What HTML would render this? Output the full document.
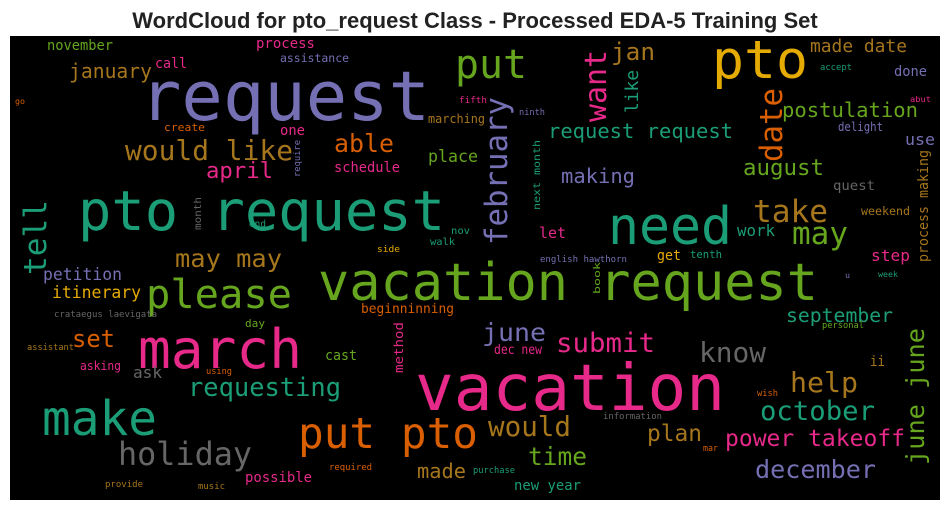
<!DOCTYPE html>
<html><head><meta charset="utf-8"><style>
html,body{margin:0;padding:0;background:#fff;width:950px;height:511px;overflow:hidden}
svg text{font-family:"DejaVu Sans Mono","Liberation Mono",monospace}
</style></head><body>
<svg width="950" height="511">
<text x="475" y="28" text-anchor="middle" style="font-family:'Liberation Sans',sans-serif;font-weight:bold;font-size:22px;fill:#222">WordCloud for pto_request Class - Processed EDA-5 Training Set</text>
<rect x="10" y="36" width="930" height="464" fill="#000"/>
<g id="words"></g>
</svg>
<script>
// [word, x, y, size, color, length, vertical]
const W=[
["request",140,120,69,"#7570b3",290],
["pto request",78,230,55,"#1b9e77",367],
["vacation request",318,300,52,"#66a61e",500],
["vacation",415,410,64,"#e7298a",310],
["pto",712,78,53,"#e6ab02",96],
["need",608,244,52,"#1b9e77",124],
["put",455,78,40,"#66a61e",72],
["march",138,368,54,"#e7298a",164],
["make",42,435,48,"#1b9e77",115],
["put pto",298,448,43,"#d95f02",180],
["please",146,308,40,"#66a61e",146],
["holiday",118,465,32,"#666666",134],
["would like",125,160,28,"#a6761d",168],
["able",334,152,25,"#d95f02",60],
["april",206,178,22,"#e7298a",67],
["january",69,78,20,"#a6761d",83],
["november",47,50,14,"#66a61e",66],
["process",256,48,14,"#e7298a",59],
["call",155,68,14,"#e7298a",32],
["assistance",280,62,11.5,"#7570b3",69],
["go",15,104,8,"#d95f02",10],
["create",164,131,11,"#d95f02",41],
["one",280,135,14,"#e7298a",25],
["schedule",334,172,14,"#e7298a",66],
["place",428,162,17,"#66a61e",50],
["fifth",459,103,9,"#e7298a",28],
["marching",428,123,12,"#a6761d",57],
["end",249,227,10,"#1b9e77",17],
["may may",175,267,25,"#a6761d",107],
["nov",451,234,10,"#1b9e77",19],
["walk",430,245,10,"#1b9e77",25],
["side",377,252,9,"#e6ab02",23],
["jan",611,60,24,"#a6761d",44],
["made date",810,52,18,"#a6761d",97],
["accept",820,70,8.5,"#1b9e77",32],
["done",894,76,14,"#7570b3",33],
["abut",910,102,8,"#e7298a",21],
["ninth",519,115,9,"#7570b3",26],
["postulation",782,117,20.5,"#66a61e",136],
["request request",548,138,20.5,"#1b9e77",185],
["delight",838,131,12,"#7570b3",45],
["use",905,145,16,"#7570b3",30],
["making",561,183,20.5,"#7570b3",74],
["august",743,175,22.4,"#66a61e",81],
["quest",833,190,13.5,"#666666",42],
["take",753,222,31,"#a6761d",75],
["weekend",861,215,11.5,"#a6761d",49],
["may",792,244,31,"#66a61e",56],
["work",737,236,16,"#1b9e77",38],
["let",539,238,15,"#e7298a",27],
["step",871,261,16,"#e7298a",39],
["get",657,260,14,"#e6ab02",24],
["tenth",690,258,11,"#1b9e77",32],
["english hawthorn",540,262,9,"#7570b3",87],
["u",845,278,8,"#7570b3",5],
["week",878,277,8,"#1b9e77",20],
["petition",43,280,16.4,"#7570b3",79],
["itinerary",52,298,16.4,"#e6ab02",89],
["crataegus laevigata",54,317,9,"#666666",103],
["beginninning",361,313,12.9,"#d95f02",93],
["day",245,327,11,"#66a61e",20],
["set",72,347,24,"#d95f02",43],
["assistant",27,350,9,"#a6761d",47],
["cast",325,360,14,"#66a61e",32],
["asking",80,370,12,"#e7298a",41],
["ask",133,378,16,"#666666",29],
["using",206,374,9,"#d95f02",26],
["requesting",188,396,25.4,"#1b9e77",153],
["june",482,341,25,"#7570b3",64],
["dec new",494,354,13,"#e7298a",48],
["submit",556,352,27,"#e7298a",99],
["september",786,322,19.7,"#1b9e77",107],
["personal",822,328,9,"#66a61e",42],
["know",699,362,28,"#666666",67],
["ii",870,366,14,"#a6761d",15],
["help",790,392,28,"#a6761d",68],
["wish",757,396,9,"#d95f02",21],
["october",760,420,27,"#1b9e77",115],
["information",603,419,9,"#666666",59],
["would",488,436,27.5,"#a6761d",83],
["plan",647,441,23,"#a6761d",55],
["power takeoff",725,446,23,"#e7298a",180],
["mar",703,451,9,"#d95f02",15],
["time",528,465,24.5,"#66a61e",59],
["made",417,478,20,"#a6761d",49],
["purchase",473,473,9,"#1b9e77",42],
["possible",245,482,14,"#e7298a",67],
["required",329,470,9,"#d95f02",43],
["december",755,478,25,"#7570b3",121],
["new year",514,490,14,"#1b9e77",67],
["provide",105,487,9,"#a6761d",38],
["music",198,489,9,"#a6761d",27],
// vertical: x=baseline x, y=bottom
["tell",46,275,31,"#1b9e77",75,1],
["february",507,245,31,"#7570b3",148,1],
["want",606,122,30,"#e7298a",72,1],
["like",638,113,18,"#1b9e77",43,1],
["date",782,162,31,"#d95f02",74,1],
["process making",928,262,14,"#a6761d",112,1],
["next month",540,210,10,"#1b9e77",70,1],
["require",300,177,9,"#7570b3",37,1],
["month",201,230,10,"#666666",33,1],
["book",600,294,9,"#66a61e",32,1],
["method",403,373,12,"#e7298a",51,1],
["june june",924,465,25,"#66a61e",137,1]
];
const g=document.getElementById('words');
const NS="http://www.w3.org/2000/svg";
W.forEach(w=>{
  const t=document.createElementNS(NS,'text');
  
  
  t.setAttribute('x',w[1]);t.setAttribute('y',w[2]);
  t.setAttribute('font-size',w[3]);t.setAttribute('fill',w[4]);
  t.setAttribute('textLength',w[5]);t.setAttribute('lengthAdjust','spacingAndGlyphs');
  if(w[6]) t.setAttribute('transform','rotate(-90 '+w[1]+' '+w[2]+')');
  t.textContent=w[0];
  g.appendChild(t);
});
</script>
</body></html>
